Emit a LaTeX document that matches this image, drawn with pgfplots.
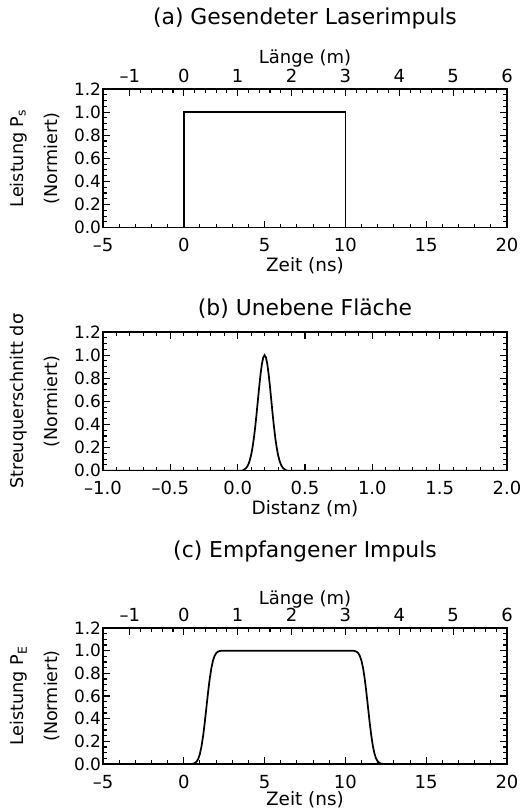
\documentclass[border=0pt]{standalone}
\usepackage{fontspec}
\setmainfont{DejaVu Sans}
\usepackage{pgfplots}
\pgfplotsset{compat=1.18}

\pgfplotsset{
  panel/.style={
    scale only axis, width=303pt, height=104pt,
    axis line style={line width=1.1pt},
    tick style={line width=0.8pt, black},
    major tick length=5pt, minor tick length=3pt,
    tick align=inside,
    ymin=0, ymax=1.2,
    ytick={0,0.2,0.4,0.6,0.8,1,1.2},
    yticklabels={0.0,0.2,0.4,0.6,0.8,1.0,1.2},
    minor y tick num=3,
    yticklabel style={font=\fontsize{12.7}{14}\selectfont, xshift=2pt},
    xticklabel style={font=\fontsize{13.5}{16}\selectfont, anchor=base, yshift=-18pt},
    ylabel style={at={(axis description cs:-0.168,0.5)}, anchor=center,
      align=center, font=\fontsize{13.2}{26}\selectfont},
    xlabel style={font=\fontsize{13.8}{16}\selectfont, at={(axis description cs:0.5,0)}, anchor=base, yshift=-33pt},
    title style={font=\fontsize{16.4}{18}\selectfont, at={(0.5,1)}, anchor=base},
  },
  toplen/.style={
    scale only axis, width=303pt, height=104pt,
    axis line style={line width=1.1pt},
    tick style={line width=0.8pt, black},
    major tick length=5pt, minor tick length=3pt,
    tick align=inside,
    ymin=0, ymax=1.2, hide y axis,
    xmin=-1.5, xmax=6,
    xtick={-1,0,1,2,3,4,5,6},
    xticklabels={–1,0,1,2,3,4,5,6},
    minor x tick num=4,
    xtick pos=right, xticklabel pos=right,
    xticklabel style={font=\fontsize{13.5}{16}\selectfont, anchor=base, yshift=5pt},
    xlabel={Länge (m)},
    xlabel style={font=\fontsize{13.5}{16}\selectfont, at={(axis description cs:0.5,1)}, anchor=base, yshift=19pt},
  },
}

\begin{document}
\begin{tikzpicture}
\path[use as bounding box] (-77.25pt,66.75pt) rectangle (312.75pt,-541.5pt);

% (a) transmitted pulse
\begin{axis}[panel, at={(0,0)}, anchor=north west,
  xmin=-5, xmax=20, xtick={-5,0,5,10,15,20},
  xticklabels={–5,0,5,10,15,20}, minor x tick num=4, xtick pos=left,
  xlabel={Zeit (ns)},
  ylabel={Leistung P\textsubscript{s}\\(Normiert)},
  title={(a) Gesendeter Laserimpuls}, title style={yshift=42.75pt}]
  \addplot[black, line width=1.3pt] coordinates {(-5,0) (0,0) (0,1) (10,1) (10,0) (20,0)};
\end{axis}
\begin{axis}[toplen, at={(0,0)}, anchor=north west]
\end{axis}

% (b) rough surface
\begin{axis}[panel, at={(0,-182.25pt)}, anchor=north west,
  xmin=-1, xmax=2, xtick={-1,-0.5,0,0.5,1,1.5,2},
  xticklabels={–1.0,–0.5,0.0,0.5,1.0,1.5,2.0}, minor x tick num=4,
  xlabel={Distanz (m)},
  ylabel={Streuquerschnitt dσ\\(Normiert)},
  title={(b) Unebene Fläche}, title style={yshift=6.75pt}]
  \addplot[black, line width=1.3pt] coordinates {
    (-1,0) (0.03,0) (0.04,0.0032) (0.05,0.0111) (0.06,0.0198) (0.07,0.0340)
    (0.08,0.0561) (0.09,0.0889) (0.10,0.1353) (0.11,0.1979) (0.12,0.2780)
    (0.13,0.3753) (0.14,0.4868) (0.15,0.6065) (0.16,0.7261) (0.17,0.8353)
    (0.18,0.9231) (0.19,0.9802) (0.20,1.0) (0.21,0.9802) (0.22,0.9231)
    (0.23,0.8353) (0.24,0.7261) (0.25,0.6065) (0.26,0.4868) (0.27,0.3753)
    (0.28,0.2780) (0.29,0.1979) (0.30,0.1353) (0.31,0.0889) (0.32,0.0561)
    (0.33,0.0340) (0.34,0.0198) (0.35,0.0111) (0.36,0.0032) (0.37,0) (2,0)};
\end{axis}

% (c) received pulse
\begin{axis}[panel, at={(0,-404.25pt)}, anchor=north west, height=102pt,
  xmin=-5, xmax=20, xtick={-5,0,5,10,15,20},
  xticklabels={–5,0,5,10,15,20}, minor x tick num=4, xtick pos=left,
  xlabel={Zeit (ns)}, xlabel style={yshift=2pt},
  ylabel={Leistung P\textsubscript{E}\\(Normiert)},
  title={(c) Empfangener Impuls}, title style={yshift=47pt}]
  \addplot[black, line width=1.3pt] coordinates {
    (-5,0) (0.4,0) (0.5,0.0013) (0.6,0.0038) (0.7,0.0098) (0.8,0.0228)
    (0.9,0.0478) (1.0,0.0912) (1.1,0.1587) (1.2,0.2525) (1.3,0.3694)
    (1.4,0.5) (1.5,0.6306) (1.6,0.7475) (1.7,0.8413) (1.8,0.9088)
    (1.9,0.9522) (2.0,0.9772) (2.1,0.9902) (2.2,0.9962) (2.3,0.9987)
    (2.5,1) (10.3,1) (10.5,0.9987) (10.6,0.9962) (10.7,0.9902) (10.8,0.9772)
    (10.9,0.9522) (11.0,0.9088) (11.1,0.8413) (11.2,0.7475) (11.3,0.6306)
    (11.4,0.5) (11.5,0.3694) (11.6,0.2525) (11.7,0.1587) (11.8,0.0912)
    (11.9,0.0478) (12.0,0.0228) (12.1,0.0098) (12.2,0.0038) (12.3,0.0013)
    (12.4,0) (20,0)};
\end{axis}
\begin{axis}[toplen, at={(0,-404.25pt)}, anchor=north west, height=102pt,
  xlabel style={yshift=-1.5pt}]
\end{axis}
\end{tikzpicture}
\end{document}
